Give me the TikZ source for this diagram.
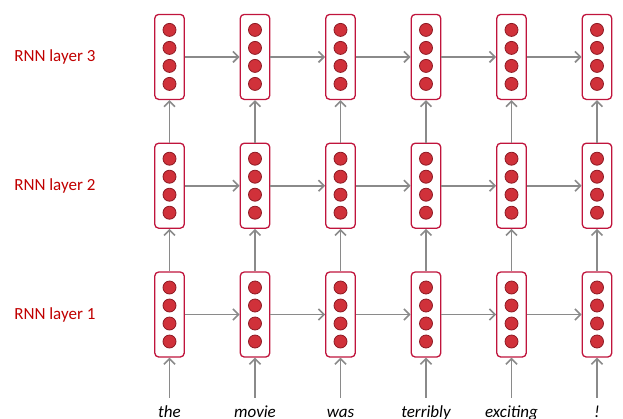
\documentclass[tikz,border=0pt]{standalone}
\usepackage{fontspec}
\setmainfont{Carlito}
\usepackage{xcolor}
\usepackage{tikz}
\usetikzlibrary{arrows.meta,positioning}

\definecolor{cellred}{HTML}{C0143C}
\definecolor{dotred}{HTML}{D0313A}
\definecolor{dotedge}{HTML}{8E1A24}
\definecolor{linkgray}{HTML}{8A8A8A}
\definecolor{labelred}{HTML}{C00000}

\tikzset{
  cell/.style={draw=cellred, line width=1.3pt, rounded corners=4pt, fill=white,
    minimum width=29.5pt, minimum height=85pt, inner sep=0pt,
    path picture={\foreach \dy in {27,9,-9,-27}
      {\filldraw[draw=dotedge, fill=dotred, line width=0.8pt]
        ([yshift=\dy pt]path picture bounding box.center) circle (6.5pt);}}},
  link/.style={draw=linkgray, line width=1.6pt, -{Straight Barb[length=5.5pt,width=11pt]}},
  layerlabel/.style={text=labelred, font=\fontsize{17}{20}\selectfont, inner sep=0pt},
  word/.style={font=\fontsize{17}{20}\selectfont\itshape, text height=12pt, text depth=4pt,
    inner xsep=0pt, inner ysep=7pt}
}

\begin{document}
\begin{tikzpicture}[x=1pt, y=1pt]
    \useasboundingbox (0,0) rectangle (623,-418);
    \coordinate (base) at (0,-417);

    % Layer 1 (bottom)
    \node[cell] (h11) at (169.5,-314.5) {};
    \node[cell, right=54.7pt of h11] (h12) {};
    \node[cell, right=54.7pt of h12] (h13) {};
    \node[cell, right=54.7pt of h13] (h14) {};
    \node[cell, right=54.7pt of h14] (h15) {};
    \node[cell, right=54.7pt of h15] (h16) {};

    % Layer 2
    \node[cell, above=42.5pt of h11] (h21) {};
    \node[cell, above=42.5pt of h12] (h22) {};
    \node[cell, above=42.5pt of h13] (h23) {};
    \node[cell, above=42.5pt of h14] (h24) {};
    \node[cell, above=42.5pt of h15] (h25) {};
    \node[cell, above=42.5pt of h16] (h26) {};

    % Layer 3 (top)
    \node[cell, above=42.5pt of h21] (h31) {};
    \node[cell, above=42.5pt of h22] (h32) {};
    \node[cell, above=42.5pt of h23] (h33) {};
    \node[cell, above=42.5pt of h24] (h34) {};
    \node[cell, above=42.5pt of h25] (h35) {};
    \node[cell, above=42.5pt of h26] (h36) {};

    % Layer names
    \node[layerlabel, left=58.5pt of h11] (lab1) {RNN layer 1};
    \node[layerlabel, left=58.5pt of h21] (lab2) {RNN layer 2};
    \node[layerlabel, left=58.5pt of h31] (lab3) {RNN layer 3};

    % Input words (cut by the lower edge, as in the slide)
    \node[word, anchor=base] (w1) at (h11.south |- base) {the};
    \node[word, anchor=base] (w2) at (h12.south |- base) {movie};
    \node[word, anchor=base] (w3) at (h13.south |- base) {was};
    \node[word, anchor=base] (w4) at (h14.south |- base) {terribly};
    \node[word, anchor=base] (w5) at (h15.south |- base) {exciting};
    \node[word, anchor=base] (w6) at (h16.south |- base) {!};

    % Arrows along time
    \foreach \l in {1,2,3}
      \foreach \i/\j in {1/2,2/3,3/4,4/5,5/6}
        \draw[link] (h\l\i.east) -- (h\l\j.west);

    % Arrows up through the layers
    \foreach \i in {1,...,6} {
      \draw[link] (w\i.north) -- (h1\i.south);
      \draw[link] (h1\i.north) -- (h2\i.south);
      \draw[link] (h2\i.north) -- (h3\i.south);
    }
\end{tikzpicture}
\end{document}
